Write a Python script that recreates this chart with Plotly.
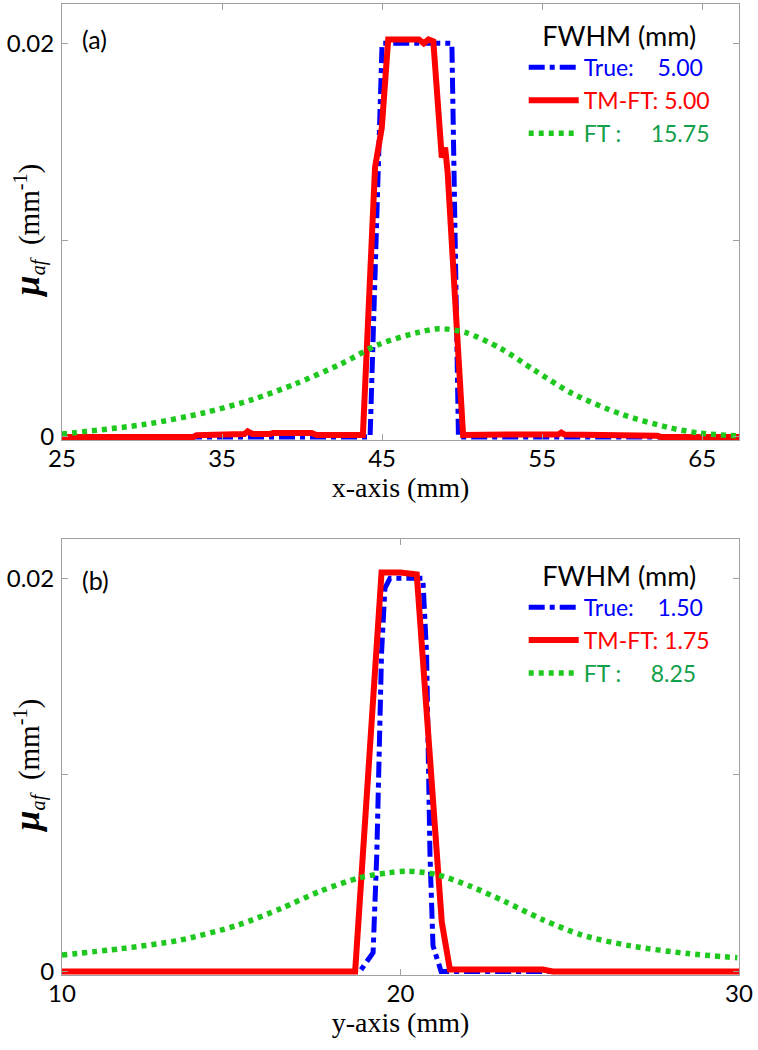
import plotly.graph_objects as go

# ---------------- data ----------------
# panel (a): x-axis profile
a_true_x = [25, 44.25, 45.0, 49.36, 49.77, 67.3]
a_true_y = [0, 0, 0.020, 0.020, 0, 0]

a_tmft_x = [25, 33.2, 33.4, 35.0, 35.2, 36.4, 36.6, 36.9, 38.0, 38.2, 40.6, 40.9,
            43.8, 44.56, 44.98, 45.38, 46.5, 47.3, 47.6, 47.9, 48.2, 48.73, 48.94,
            49.1, 50.06, 52.6, 52.8, 56.0, 56.2, 56.4, 60.6, 60.8, 62.2, 62.4, 67.3]
a_tmft_y = [0, 0, 0.00008, 0.00008, 0.00015, 0.00015, 0.00028, 0.00015, 0.00015,
            0.0002, 0.0002, 0.0001, 0.0001, 0.0137, 0.0157, 0.0202, 0.0202, 0.0202,
            0.0200, 0.0202, 0.0201, 0.0142, 0.0147, 0.0134, 0.0001, 0.00005,
            0.00012, 0.00012, 0.00022, 0.00012, 0.00012, 0.00006, 0.00006, 0, 0]

a_ft_x = [25.0, 30.2, 33.9, 36.9, 39.6, 42.4, 44.8, 47.2, 48.6, 50.25, 52.4, 54.5,
          56.9, 59.9, 63.0, 64.8, 67.2]
a_ft_y = [0.00015, 0.00064, 0.00123, 0.0019, 0.0027, 0.0037, 0.0047, 0.0053, 0.0055,
          0.0053, 0.0045, 0.0034, 0.0022, 0.00117, 0.00046, 0.0002, 0.00005]

# panel (b): y-axis profile
b_true_x = [10, 18.8, 19.19, 19.3, 19.44, 19.54, 19.69, 20.66, 20.77, 20.87, 20.96, 21.2, 30]
b_true_y = [0, 0, 0.00096, 0.006, 0.0162, 0.0195, 0.0200, 0.0200, 0.0162, 0.006, 0.0013, 0, 0]

b_tmft_x = [10, 18.66, 19.44, 20.0, 20.48, 21.22, 21.46, 24.2, 24.5, 30]
b_tmft_y = [0, 0, 0.0203, 0.0203, 0.0202, 0.0025, 0.0001, 0.0001, 0, 0]

b_ft_x = [10.0, 11.75, 13.47, 15.2, 16.49, 17.62, 18.78, 19.64, 20.2, 21.07, 22.07,
          23.08, 24.22, 25.36, 26.8, 28.5, 29.95]
b_ft_y = [0.00084, 0.00116, 0.00159, 0.00236, 0.00322, 0.00408, 0.00476, 0.00502,
          0.0051, 0.00493, 0.00433, 0.00356, 0.00262, 0.00185, 0.0013, 0.00091, 0.0007]

# FWHM values shown in the legends
a_fwhm = {"True": "5.00", "TM-FT": "5.00", "FT": "15.75"}
b_fwhm = {"True": "1.50", "TM-FT": "1.75", "FT": "8.25"}

xa_ticks = [25, 35, 45, 55, 65]
xb_ticks = [10, 20, 30]
y_ticks = [0, 0.01, 0.02]
y_ticktext = ["0", "", "0.02"]

# ---------------- styles ----------------
BLUE = "#0000ff"
RED = "#ff0000"
GREEN = "#1ec81e"
GREEN_TXT = "#12a04a"
SANS = "Lato"
SERIF = "Liberation Serif"
NB = "&nbsp;"


def names(f):
    return [
        f"<span style='color:{BLUE}'>True:{NB*4}{f['True']}</span>",
        f"<span style='color:{RED}'>TM-FT: {f['TM-FT']}</span>",
        f"<span style='color:{GREEN_TXT}'>FT :{NB*5}{f['FT']}</span>",
    ]


fig = go.Figure()

na = names(a_fwhm)
nb = names(b_fwhm)

fig.add_trace(go.Scatter(x=a_true_x, y=a_true_y, mode="lines", name=na[0],
                         line=dict(color=BLUE, width=5, dash="16px,5px,5px,5px"),
                         xaxis="x", yaxis="y", legend="legend"))
fig.add_trace(go.Scatter(x=a_tmft_x, y=a_tmft_y, mode="lines", name=na[1],
                         line=dict(color=RED, width=6),
                         xaxis="x", yaxis="y", legend="legend"))
fig.add_trace(go.Scatter(x=a_ft_x, y=a_ft_y, mode="lines", name=na[2],
                         line=dict(color=GREEN, width=5.5, dash="5px,5px", shape="spline", smoothing=0.8),
                         xaxis="x", yaxis="y", legend="legend"))

fig.add_trace(go.Scatter(x=b_true_x, y=b_true_y, mode="lines", name=nb[0],
                         line=dict(color=BLUE, width=5, dash="16px,5px,5px,5px"),
                         xaxis="x2", yaxis="y2", legend="legend2"))
fig.add_trace(go.Scatter(x=b_tmft_x, y=b_tmft_y, mode="lines", name=nb[1],
                         line=dict(color=RED, width=6),
                         xaxis="x2", yaxis="y2", legend="legend2"))
fig.add_trace(go.Scatter(x=b_ft_x, y=b_ft_y, mode="lines", name=nb[2],
                         line=dict(color=GREEN, width=5.5, dash="5px,5px", shape="spline", smoothing=0.8),
                         xaxis="x2", yaxis="y2", legend="legend2"))

axis_common = dict(showline=True, linecolor="#a0a0a0", linewidth=1, mirror="ticks",
                   ticks="inside", ticklen=6, tickcolor="#a0a0a0", tickwidth=1,
                   showgrid=False, zeroline=False, automargin=False,
                   tickfont=dict(family=SANS, size=24, color="black"))

title_font = dict(family=SERIF, size=28, color="black")

legend_common = dict(bgcolor="rgba(0,0,0,0)", borderwidth=0,
                     font=dict(family=SANS, size=23),
                     title=dict(text="FWHM (mm)", side="top center",
                                font=dict(family=SANS, size=27, color="black")),
                     xanchor="left", yanchor="top", itemwidth=50,
                     tracegroupgap=0, traceorder="normal")

fig.update_layout(
    width=758, height=1050,
    margin=dict(l=62, r=19, t=4, b=75),
    paper_bgcolor="white", plot_bgcolor="white",
    showlegend=True,
    xaxis=dict(domain=[0, 1], range=[25, 67.3], tickvals=xa_ticks, anchor="y",
               title=dict(text="x-axis (mm)", font=title_font, standoff=2),
               ticklabelstandoff=-3, **axis_common),
    yaxis=dict(domain=[0.5505, 1], range=[-0.00018, 0.022], tickvals=y_ticks,
               ticktext=y_ticktext, anchor="x", ticklabelstandoff=2, **axis_common),
    xaxis2=dict(domain=[0, 1], range=[10, 30], tickvals=xb_ticks, anchor="y2",
                title=dict(text="y-axis (mm)", font=title_font, standoff=2),
                ticklabelstandoff=-3, **axis_common),
    yaxis2=dict(domain=[0, 0.449], range=[-0.00018, 0.022], tickvals=y_ticks,
                ticktext=y_ticktext, anchor="x2", ticklabelstandoff=2, **axis_common),
    legend=dict(x=0.682, y=0.993, **legend_common),
    legend2=dict(x=0.682, y=0.437, **legend_common),
)

ylab = ("<b><i><span style='font-size:36px'>μ</span></i></b><i><sub>af</sub></i>"
        "&nbsp;&nbsp;(mm<sup>-1</sup>)")
fig.add_annotation(text=ylab, xref="paper", yref="paper", x=-0.05, y=0.767,
                   textangle=-90, showarrow=False, xanchor="center", yanchor="middle",
                   font=dict(family=SERIF, size=29, color="black"))
fig.add_annotation(text=ylab, xref="paper", yref="paper", x=-0.05, y=0.216,
                   textangle=-90, showarrow=False, xanchor="center", yanchor="middle",
                   font=dict(family=SERIF, size=29, color="black"))

fig.add_annotation(text="(a)", xref="x domain", yref="y domain", x=0.026, y=0.92,
                   showarrow=False, xanchor="left", yanchor="middle",
                   font=dict(family=SANS, size=25, color="black"))
fig.add_annotation(text="(b)", xref="x2 domain", yref="y2 domain", x=0.026, y=0.907,
                   showarrow=False, xanchor="left", yanchor="middle",
                   font=dict(family=SANS, size=25, color="black"))

fig.write_html("out.html", config={"displayModeBar": False},
               post_script="document.body.style.margin='0';")
